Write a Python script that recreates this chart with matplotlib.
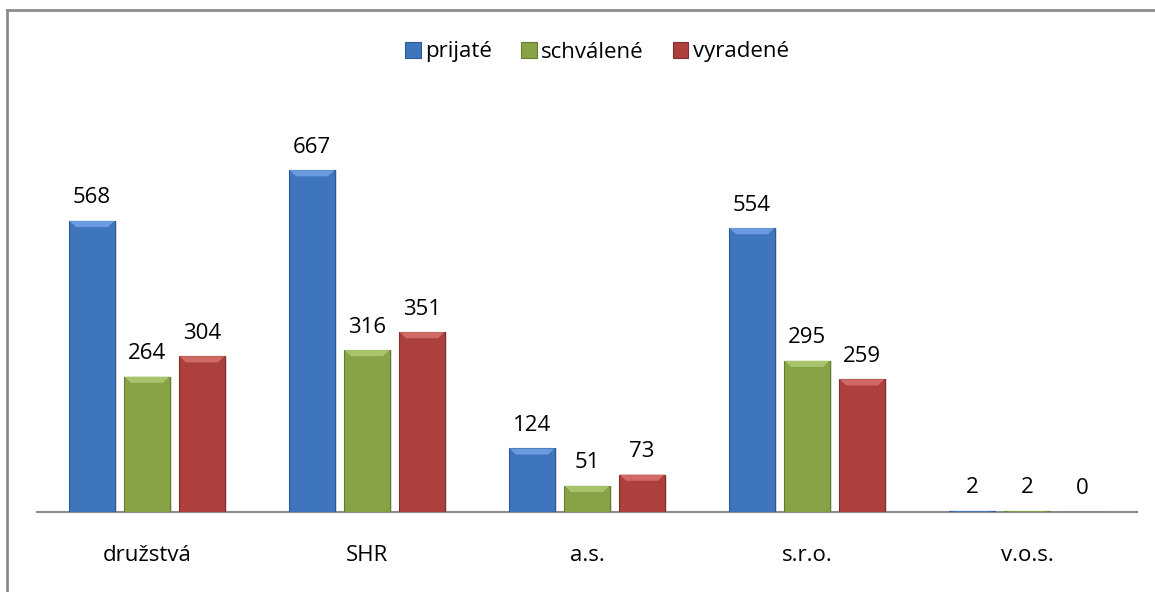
import matplotlib
matplotlib.use("Agg")
import matplotlib.pyplot as plt
import numpy as np
from matplotlib.patches import Polygon, Rectangle

categories = ["družstvá", "SHR", "a.s.", "s.r.o.", "v.o.s."]
series_names = ["prijaté", "schválené", "vyradené"]
prijate = [568, 667, 124, 554, 2]
schvalene = [264, 316, 51, 295, 2]
vyradene = [304, 351, 73, 259, 0]

colors = ["#3f75bd", "#86a345", "#ad3f3c"]
edges = ["#2d5a96", "#657d30", "#82302d"]
tops = ["#6a9be0", "#a8c46a", "#d06a67"]

plt.rcParams['font.family'] = ['Open Sans', 'DejaVu Sans']

fig = plt.figure(figsize=(11.55, 5.92), dpi=100)
ax = fig.add_axes([37/1155, 80/592, 1100/1155, 410/592])

# chart border (only top and left visible in reference)
fig.add_artist(plt.Line2D([7/1155, 7/1155], [0, 1 - 10/592], color="#8c8c8c", lw=2,
                          transform=fig.transFigure))
fig.add_artist(plt.Line2D([7/1155, 1], [1 - 10/592, 1 - 10/592], color="#8c8c8c", lw=2,
                          transform=fig.transFigure))

x = np.arange(len(categories))
width = 0.205
step = 0.25
data = [prijate, schvalene, vyradene]

for i, vals in enumerate(data):
    pos = x + (i - 1) * step
    bars = ax.bar(pos, vals, width, color=colors[i], edgecolor=edges[i], lw=0.8,
                  label=series_names[i], zorder=3)
    for b, v in zip(bars, vals):
        bx, bw, bh = b.get_x(), b.get_width(), b.get_height()
        # soft shadow
        ax.add_patch(Rectangle((bx + 0.012, 0), bw, bh, color="#000000", alpha=0.12,
                               zorder=2, lw=0))
        # bevel on top
        bev = min(12, bh * 0.5)
        if bh > 0:
            ax.add_patch(Polygon([(bx, bh), (bx + bw, bh), (bx + bw - 0.03, bh - bev),
                                  (bx + 0.03, bh - bev)], closed=True, color=tops[i],
                                 lw=0, zorder=4))
        ax.annotate(str(v), (b.get_x() + bw / 2, bh), xytext=(0, 9),
                    textcoords="offset points", ha="center", va="bottom", fontsize=16)

ax.set_xlim(-0.5, len(categories) - 0.5)
ax.set_ylim(0, 800)
ax.set_yticks([])
ax.set_xticks(x)
ax.set_xticklabels(categories, fontsize=16)
ax.tick_params(axis="x", length=0, pad=24)
for s in ["top", "right", "left"]:
    ax.spines[s].set_visible(False)
ax.spines["bottom"].set_color("#8c8c8c")
ax.spines["bottom"].set_linewidth(1.5)

fig.legend(loc="center", bbox_to_anchor=(0.517, 1 - 52/592), ncol=3, frameon=False,
           fontsize=16, handlelength=0.7, handleheight=0.7, handletextpad=0.2,
           columnspacing=1.3)

fig.savefig("out.png", dpi=100)
